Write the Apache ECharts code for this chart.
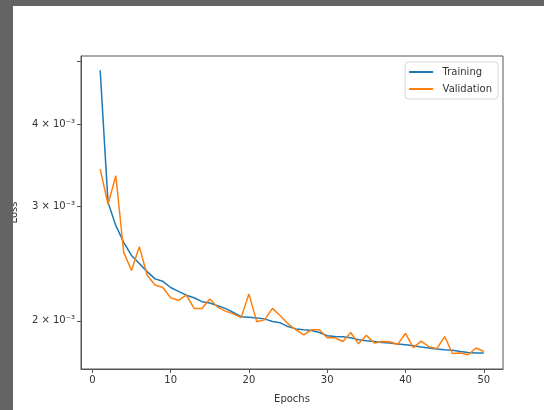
<!DOCTYPE html>
<html>
<head>
<meta charset="utf-8">
<script src="https://cdn.jsdelivr.net/npm/echarts@6/dist/echarts.min.js"></script>
<style>
  html, body { margin: 0; padding: 0; background: #646464; }
  #main { position: absolute; left: 13px; top: 6px; width: 531px; height: 404px; background: #fff; overflow: hidden; }
</style>
</head>
<body>
<div id="main"></div>
<script>
// loss per epoch
var epochs = [];
for (var e = 1; e <= 50; e++) epochs.push(e);
var training = [4.85, 3.04, 2.80, 2.64, 2.52, 2.45, 2.38, 2.32, 2.30, 2.25,
  2.22, 2.19, 2.17, 2.14, 2.13, 2.11, 2.09, 2.06, 2.03, 2.026,
  2.02, 2.014, 1.995, 1.986, 1.96, 1.944, 1.938, 1.933, 1.919, 1.897,
  1.892, 1.89, 1.884, 1.871, 1.864, 1.859, 1.853, 1.849, 1.843, 1.838,
  1.832, 1.823, 1.817, 1.811, 1.806, 1.802, 1.795, 1.789, 1.785, 1.785];
var validation = [3.42, 3.02, 3.34, 2.55, 2.39, 2.60, 2.35, 2.27, 2.25, 2.17,
  2.15, 2.19, 2.09, 2.09, 2.16, 2.10, 2.07, 2.05, 2.023, 2.20,
  1.993, 2.007, 2.09, 2.036, 1.979, 1.938, 1.904, 1.938, 1.938, 1.884,
  1.884, 1.859, 1.919, 1.844, 1.900, 1.849, 1.859, 1.858, 1.840, 1.914,
  1.819, 1.862, 1.825, 1.813, 1.892, 1.782, 1.785, 1.774, 1.817, 1.795];
var xTicks = [0, 10, 20, 30, 40, 50];
var yTicks = [0.002, 0.003, 0.004, 0.005];
var yLabels = [0.002, 0.003, 0.004];

function pairs(vals) {
  return vals.map(function (v, i) { return [epochs[i], v / 1000]; });
}

var myChart = echarts.init(document.getElementById('main'));
var axisColor = '#555';
var lineIcon = 'path://M0 0H24V2H0Z';
var option = {
  animation: false,
  textStyle: { fontFamily: 'DejaVu Sans' },
  grid: {
    left: 68, right: 41, top: 50, bottom: 41,
    outerBoundsMode: 'none',
    containLabel: false,
    show: true,
    borderColor: axisColor,
    borderWidth: 1,
    backgroundColor: 'transparent'
  },
  legend: {
    orient: 'vertical',
    right: 46,
    top: 56,
    padding: [5, 6, 5, 4],
    itemGap: 7,
    itemWidth: 25,
    itemHeight: 2,
    backgroundColor: '#fff',
    borderColor: '#d6d6d6',
    borderWidth: 1,
    borderRadius: 3,
    textStyle: { fontSize: 10, color: '#333', padding: [0, 0, 0, 4] },
    data: [
      { name: 'Training', icon: lineIcon },
      { name: 'Validation', icon: lineIcon }
    ]
  },
  xAxis: {
    type: 'value',
    min: -1.45,
    max: 52.45,
    name: 'Epochs',
    nameLocation: 'middle',
    nameGap: 25,
    nameTextStyle: { fontSize: 10, color: '#333' },
    splitLine: { show: false },
    axisLine: { onZero: false, lineStyle: { color: axisColor, width: 1 } },
    axisTick: { customValues: xTicks, length: 4, lineStyle: { color: axisColor } },
    axisLabel: { customValues: xTicks, fontSize: 10, color: '#333', margin: 6 }
  },
  yAxis: {
    type: 'log',
    min: 0.001687,
    max: 0.00510,
    name: 'Loss',
    nameLocation: 'middle',
    nameGap: 62,
    nameTextStyle: { fontSize: 10, color: '#333' },
    splitLine: { show: false },
    axisLine: { show: true, onZero: false, lineStyle: { color: axisColor, width: 1 } },
    axisTick: { customValues: yTicks, length: 4, lineStyle: { color: axisColor } },
    axisLabel: {
      customValues: yLabels,
      fontSize: 10,
      color: '#333',
      margin: 6,
      formatter: function (v) {
        return Math.round(v * 1000) + ' \u00d7 10\u207b\u00b3';
      }
    }
  },
  series: [
    {
      name: 'Training',
      type: 'line',
      symbol: 'none',
      data: pairs(training),
      itemStyle: { color: '#1f77b4' },
      lineStyle: { color: '#1f77b4', width: 1.5 }
    },
    {
      name: 'Validation',
      type: 'line',
      symbol: 'none',
      data: pairs(validation),
      itemStyle: { color: '#ff7f0e' },
      lineStyle: { color: '#ff7f0e', width: 1.5 }
    }
  ]
};
myChart.setOption(option);
</script>
</body>
</html>
